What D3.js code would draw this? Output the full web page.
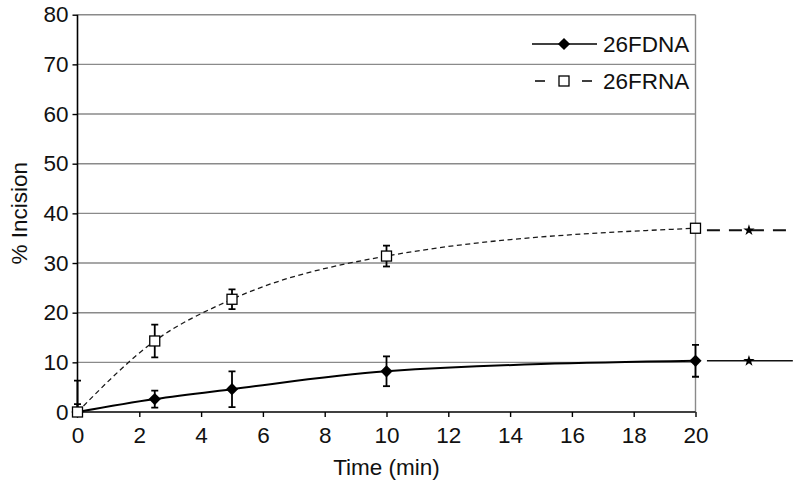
<!DOCTYPE html>
<html><head><meta charset="utf-8">
<script src="https://cdn.jsdelivr.net/npm/d3@7"></script>
<style>
html,body{margin:0;padding:0;background:#fff;}
svg text{font-family:"Liberation Sans",Arial,sans-serif;fill:#111;}
</style></head>
<body>
<svg id="chart" width="800" height="483"></svg>
<script>
// ---- data ----
const time = [0, 2.5, 5, 10, 20];
const dnaValues = [0, 2.6, 4.6, 8.2, 10.3];
const dnaErrors = [1.6, 1.7, 3.6, 3.0, 3.2];
const rnaValues = [0, 14.3, 22.7, 31.4, 37.0];
const rnaErrors = [6.3, 3.3, 2.0, 2.1, 0.4];
const xTicks = [0, 2, 4, 6, 8, 10, 12, 14, 16, 18, 20];
const yTicks = [0, 10, 20, 30, 40, 50, 60, 70, 80];
const seriesNames = ["26FDNA", "26FRNA"];
// continuation beyond the plot (x units)
const extTime = [20.37, 21.73, 23.15];

const svg = d3.select("#chart");
const margin = {left: 77.5, right: 104.5, top: 14.7, bottom: 71};
const W = 800, H = 483;
const x = d3.scaleLinear().domain([0, 20]).range([margin.left, W - margin.right]);
const y = d3.scaleLinear().domain([0, 80]).range([H - margin.bottom, margin.top]);

// gridlines
svg.append("g").selectAll("line").data(yTicks.filter(d => d > 0)).join("line")
  .attr("x1", x(0)).attr("x2", x(20))
  .attr("y1", d => y(d)).attr("y2", d => y(d))
  .attr("stroke", "#8a8a8a").attr("stroke-width", 1.4);
// right border
svg.append("line").attr("x1", x(20)).attr("x2", x(20)).attr("y1", y(0)).attr("y2", y(80))
  .attr("stroke", "#8a8a8a").attr("stroke-width", 1.4);

// axes
const xAxis = svg.append("g").attr("transform", `translate(0,${y(0)})`)
  .call(d3.axisBottom(x).tickValues(xTicks).tickSize(5).tickPadding(10).tickFormat(d3.format("d")));
const yAxis = svg.append("g").attr("transform", `translate(${x(0)},0)`)
  .call(d3.axisLeft(y).tickValues(yTicks).tickSize(5).tickPadding(4).tickFormat(d3.format("d")));
[xAxis, yAxis].forEach(a => {
  a.select(".domain").attr("stroke", "#000").attr("stroke-width", 1.6);
  a.selectAll(".tick line").attr("stroke", "#000").attr("stroke-width", 1.4);
  a.selectAll(".tick text").attr("font-size", 22.5).attr("fill", "#111")
    .style("font-family", '"Liberation Sans",Arial,sans-serif');
});
yAxis.select(".domain").attr("d", `M0,${y(80)}V${y(0)}`);
xAxis.select(".domain").attr("d", `M${x(0)},0H${x(20)}`);

// axis titles
svg.append("text").attr("x", (x(0) + x(20)) / 2).attr("y", 475)
  .attr("text-anchor", "middle").attr("font-size", 22.5).text("Time (min)");
svg.append("text").attr("transform", `translate(27,${(y(0) + y(80)) / 2}) rotate(-90)`)
  .attr("text-anchor", "middle").attr("font-size", 22.5).text("% Incision");

svg.append("clipPath").attr("id", "plotclip").append("rect")
  .attr("x", x(0) - 20).attr("y", y(80) - 20).attr("width", x(20) - x(0) + 40).attr("height", y(0) - y(80) + 20);

const dna = time.map((t, i) => ({t, v: dnaValues[i], e: dnaErrors[i]}));
const rna = time.map((t, i) => ({t, v: rnaValues[i], e: rnaErrors[i]}));

const line = d3.line().x(d => x(d.t)).y(d => y(d.v)).curve(d3.curveMonotoneX);

const plot = svg.append("g").attr("clip-path", "url(#plotclip)");
plot.append("path").datum(rna).attr("d", line).attr("fill", "none")
  .attr("stroke", "#1a1a1a").attr("stroke-width", 1.3).attr("stroke-dasharray", "5 3.5");
plot.append("path").datum(dna).attr("d", line).attr("fill", "none")
  .attr("stroke", "#000").attr("stroke-width", 2);

// error bars
function errorBars(data) {
  const g = plot.append("g").attr("stroke", "#000").attr("stroke-width", 1.8);
  data.forEach(d => {
    const top = y(d.v + d.e), bot = y(Math.max(0, d.v - d.e));
    g.append("line").attr("x1", x(d.t)).attr("x2", x(d.t)).attr("y1", top).attr("y2", bot);
    g.append("line").attr("x1", x(d.t) - 3.5).attr("x2", x(d.t) + 3.5).attr("y1", top).attr("y2", top);
    if (d.v - d.e >= 0)
      g.append("line").attr("x1", x(d.t) - 3.5).attr("x2", x(d.t) + 3.5).attr("y1", bot).attr("y2", bot);
  });
}
errorBars(rna);
errorBars(dna);

// markers
svg.append("g").selectAll("path").data(dna).join("path")
  .attr("transform", d => `translate(${x(d.t)},${y(d.v)})`)
  .attr("d", d3.symbol(d3.symbolDiamond2, 95)).attr("fill", "#000");
svg.append("g").selectAll("rect").data(rna).join("rect")
  .attr("x", d => x(d.t) - 5).attr("y", d => y(d.v) - 5).attr("width", 10).attr("height", 10)
  .attr("fill", "#fff").attr("stroke", "#000").attr("stroke-width", 1.3);

// continuation beyond x = 20
const last = time.length - 1;
svg.append("line").attr("x1", x(extTime[0])).attr("x2", x(extTime[2]))
  .attr("y1", y(rnaValues[last]) + 2).attr("y2", y(rnaValues[last]) + 2)
  .attr("stroke", "#111").attr("stroke-width", 1.8).attr("stroke-dasharray", "13 9");
svg.append("line").attr("x1", x(extTime[0])).attr("x2", x(extTime[2]))
  .attr("y1", y(dnaValues[last])).attr("y2", y(dnaValues[last]))
  .attr("stroke", "#111").attr("stroke-width", 1.5);
[rnaValues[last], dnaValues[last]].forEach((v, i) => {
  svg.append("path").attr("transform", `translate(${x(extTime[1])},${y(v) + (i === 0 ? 2 : 0)})`)
    .attr("d", d3.symbol(d3.symbolStar, 40)).attr("fill", "#000");
});

// legend
const lg = svg.append("g");
lg.append("line").attr("x1", 532).attr("x2", 597).attr("y1", 44).attr("y2", 44)
  .attr("stroke", "#000").attr("stroke-width", 1.6);
lg.append("path").attr("transform", "translate(564,44)")
  .attr("d", d3.symbol(d3.symbolDiamond2, 95)).attr("fill", "#000");
lg.append("text").attr("x", 603).attr("y", 52).attr("font-size", 22.5).text(seriesNames[0]);
lg.append("line").attr("x1", 535).attr("x2", 592).attr("y1", 81).attr("y2", 81)
  .attr("stroke", "#000").attr("stroke-width", 1.6).attr("stroke-dasharray", "10 37");
lg.append("rect").attr("x", 559).attr("y", 76).attr("width", 10).attr("height", 10)
  .attr("fill", "#fff").attr("stroke", "#000").attr("stroke-width", 1.3);
lg.append("text").attr("x", 603).attr("y", 89).attr("font-size", 22.5).text(seriesNames[1]);
</script>
</body></html>
